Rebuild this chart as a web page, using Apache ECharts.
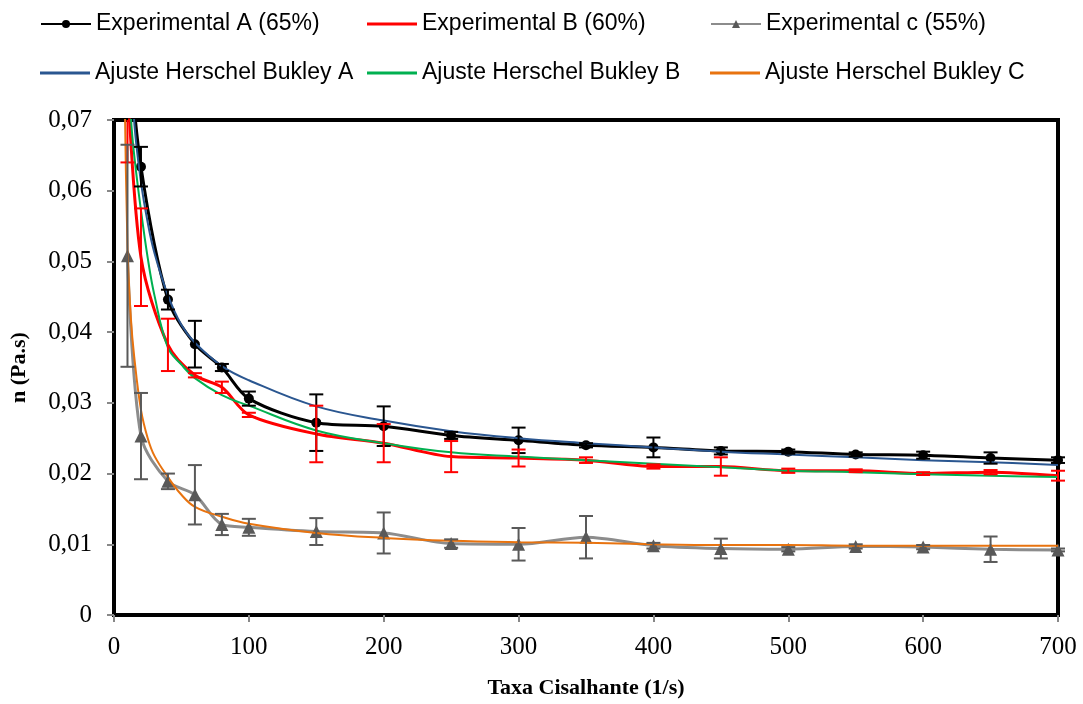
<!DOCTYPE html>
<html>
<head>
<meta charset="utf-8">
<script src="https://cdn.jsdelivr.net/npm/echarts@6/dist/echarts.min.js"></script>
<style>
  html, body { margin: 0; padding: 0; background: #fff; }
  #chart { width: 1083px; height: 704px; }
</style>
</head>
<body>
<div id="chart"></div>
<script>
// taxa de cisalhamento (1/s)
var shear = [10, 20, 40, 60, 80, 100, 150, 200, 250, 300, 350, 400, 450, 500, 550, 600, 650, 700];

// viscosidade experimental (Pa.s) e desvio
var etaA = [0.083, 0.0634, 0.0446, 0.0383, 0.0350, 0.0306, 0.0272, 0.0267, 0.0254, 0.0247, 0.0240, 0.0237, 0.0232, 0.0231, 0.0227, 0.0226, 0.0222, 0.0219];
var errA = [0.005, 0.0028, 0.0014, 0.0033, 0.0005, 0.0010, 0.0040, 0.0028, 0.0005, 0.0018, 0.0003, 0.0014, 0.0005, 0.0003, 0.0003, 0.0005, 0.0008, 0.0004];
var etaB = [0.076, 0.0506, 0.0382, 0.0339, 0.0322, 0.0283, 0.0256, 0.0243, 0.0224, 0.0222, 0.0219, 0.0210, 0.0210, 0.0204, 0.0204, 0.0200, 0.0202, 0.0197];
var errB = [0.012, 0.0069, 0.0037, 0.0003, 0.0008, 0.0003, 0.0040, 0.0027, 0.0022, 0.0012, 0.0004, 0.0003, 0.0013, 0.0003, 0.0002, 0.0002, 0.0003, 0.0007];
var etaC = [0.0508, 0.0253, 0.0189, 0.0170, 0.0128, 0.0124, 0.0118, 0.0116, 0.0101, 0.0100, 0.0110, 0.0098, 0.0094, 0.0093, 0.0097, 0.0096, 0.0093, 0.0092];
var errC = [0.0157, 0.0061, 0.0011, 0.0042, 0.0015, 0.0012, 0.0019, 0.0029, 0.0006, 0.0023, 0.0030, 0.0004, 0.0014, 0.0003, 0.0003, 0.0003, 0.0018, 0.0002];

// curvas de ajuste Herschel-Bulkley
var fitX = [7, 10, 12.5, 15, 20, 25, 30, 40, 50, 60, 80, 100, 150, 200, 250, 300, 350, 400, 450, 500, 550, 600, 650, 700];
var fitA = [0.12, 0.095, 0.080, 0.0697, 0.0612, 0.0555, 0.0512, 0.0452, 0.0410, 0.0385, 0.0352, 0.0332, 0.0295, 0.0275, 0.0260, 0.0250, 0.0243, 0.0237, 0.0231, 0.0227, 0.0223, 0.0219, 0.0216, 0.0212];
var fitB = [0.11, 0.083, 0.0705, 0.0650, 0.0572, 0.0505, 0.0452, 0.0378, 0.0354, 0.0335, 0.0311, 0.0296, 0.0261, 0.0243, 0.0230, 0.0224, 0.0219, 0.0214, 0.0209, 0.0204, 0.0202, 0.0199, 0.0197, 0.0195];
var fitC = [0.085, 0.052, 0.042, 0.0365, 0.0290, 0.0250, 0.0225, 0.0195, 0.0170, 0.0153, 0.0139, 0.0129, 0.0116, 0.0109, 0.0105, 0.0103, 0.0102, 0.0100, 0.0099, 0.0099, 0.0098, 0.0098, 0.0098, 0.0098];

var names = ['Experimental A (65%)', 'Experimental B (60%)', 'Experimental c (55%)',
  'Ajuste Herschel Bukley A', 'Ajuste Herschel Bukley B', 'Ajuste Herschel Bukley C'];

function pairs(xs, ys) {
  return xs.map(function (x, i) { return [x, ys[i]]; });
}
function bars(ys, es) {
  return shear.map(function (x, i) { return [x, ys[i] - es[i], ys[i] + es[i]]; });
}

// barras de erro desenhadas pela escala do eixo
function errorBar(color) {
  return function (params, api) {
    var cs = params.coordSys;
    var x = api.value(0);
    var pHi = api.coord([x, api.value(2)]);
    var pLo = api.coord([x, api.value(1)]);
    var top = cs.y, bot = cs.y + cs.height;
    var y1 = Math.max(pHi[1], top), y2 = Math.min(pLo[1], bot);
    if (y1 >= y2) return;
    var st = { stroke: color, lineWidth: 2 };
    var kids = [{ type: 'line', shape: { x1: pHi[0], y1: y1, x2: pHi[0], y2: y2 }, style: st }];
    if (pHi[1] >= top) kids.push({ type: 'line', shape: { x1: pHi[0] - 7, y1: pHi[1], x2: pHi[0] + 7, y2: pHi[1] }, style: st });
    if (pLo[1] <= bot) kids.push({ type: 'line', shape: { x1: pLo[0] - 7, y1: pLo[1], x2: pLo[0] + 7, y2: pLo[1] }, style: st });
    return { type: 'group', children: kids };
  };
}

// legenda: linhas simples para B e ajustes, linha + marcador para A e c
var legendPos = [[40, 11], [367, 11], [710, 11], [40, 60], [367, 60], [710, 60]];
var withMarker = [true, false, true, false, false, false];
var legends = names.map(function (n, i) {
  var m = withMarker[i];
  return {
    data: [m ? n : { name: n, icon: 'rect' }],
    left: legendPos[i][0], top: legendPos[i][1],
    itemWidth: 50, itemHeight: m ? 10 : 3, padding: 0,
    textStyle: { fontFamily: 'Liberation Sans', fontSize: 23, color: '#000', lineHeight: 26 }
  };
});

var chart = echarts.init(document.getElementById('chart'));
chart.setOption({
  animation: false,
  backgroundColor: '#fff',
  legend: legends,
  grid: { left: 114, top: 120, width: 944, height: 499, show: true, borderColor: '#000', borderWidth: 4 },
  xAxis: {
    type: 'value', min: 0, max: 700, interval: 100,
    name: 'Taxa Cisalhante (1/s)', nameLocation: 'middle', nameGap: 62,
    nameTextStyle: { fontFamily: 'Liberation Serif', fontSize: 22, fontWeight: 'bold', color: '#000' },
    axisLine: { lineStyle: { color: '#000', width: 3 } },
    axisTick: { length: 7, lineStyle: { color: '#888', width: 2 } },
    axisLabel: { fontFamily: 'Liberation Serif', fontSize: 25, color: '#000', margin: 20 },
    splitLine: { show: false }
  },
  yAxis: {
    type: 'value', min: 0, max: 0.07, interval: 0.01,
    name: 'n (Pa.s)', nameLocation: 'middle', nameGap: 84, nameRotate: 90,
    nameTextStyle: { fontFamily: 'Liberation Serif', fontSize: 22, fontWeight: 'bold', color: '#000' },
    axisLine: { lineStyle: { color: '#000', width: 3 } },
    axisTick: { length: 7, lineStyle: { color: '#888', width: 2 } },
    axisLabel: {
      fontFamily: 'Liberation Serif', fontSize: 25, color: '#000', margin: 22,
      formatter: function (v) { return v === 0 ? '0' : v.toFixed(2).replace('.', ','); }
    },
    splitLine: { show: false }
  },
  series: [
    { name: names[0], type: 'line', data: pairs(shear, etaA), smooth: 0.3,
      symbol: 'circle', symbolSize: 10, showAllSymbol: true,
      lineStyle: { color: '#000', width: 3 }, itemStyle: { color: '#000' }, z: 3 },
    { name: names[1], type: 'line', data: pairs(shear, etaB), smooth: 0.3,
      symbol: 'none', lineStyle: { color: '#ff0000', width: 3 }, itemStyle: { color: '#ff0000' }, z: 3 },
    { name: names[2], type: 'line', data: pairs(shear, etaC), smooth: 0.3,
      symbol: 'triangle', symbolSize: 13, showAllSymbol: true,
      lineStyle: { color: '#8c8c8c', width: 3 }, itemStyle: { color: '#595959' }, z: 3 },
    { name: names[3], type: 'line', data: pairs(fitX, fitA), smooth: 0.4, symbol: 'none',
      lineStyle: { color: '#2A5690', width: 2 }, itemStyle: { color: '#2A5690' }, z: 4 },
    { name: names[4], type: 'line', data: pairs(fitX, fitB), smooth: 0.4, symbol: 'none',
      lineStyle: { color: '#00B050', width: 2 }, itemStyle: { color: '#00B050' }, z: 4 },
    { name: names[5], type: 'line', data: pairs(fitX, fitC), smooth: 0.4, symbol: 'none',
      lineStyle: { color: '#E8730F', width: 2 }, itemStyle: { color: '#E8730F' }, z: 4 },
    { name: 'errA', type: 'custom', data: bars(etaA, errA), renderItem: errorBar('#000'),
      encode: { x: 0, y: [1, 2] }, z: 5 },
    { name: 'errB', type: 'custom', data: bars(etaB, errB), renderItem: errorBar('#ff0000'),
      encode: { x: 0, y: [1, 2] }, z: 5 },
    { name: 'errC', type: 'custom', data: bars(etaC, errC), renderItem: errorBar('#595959'),
      encode: { x: 0, y: [1, 2] }, z: 5 }
  ]
});
</script>
</body>
</html>
